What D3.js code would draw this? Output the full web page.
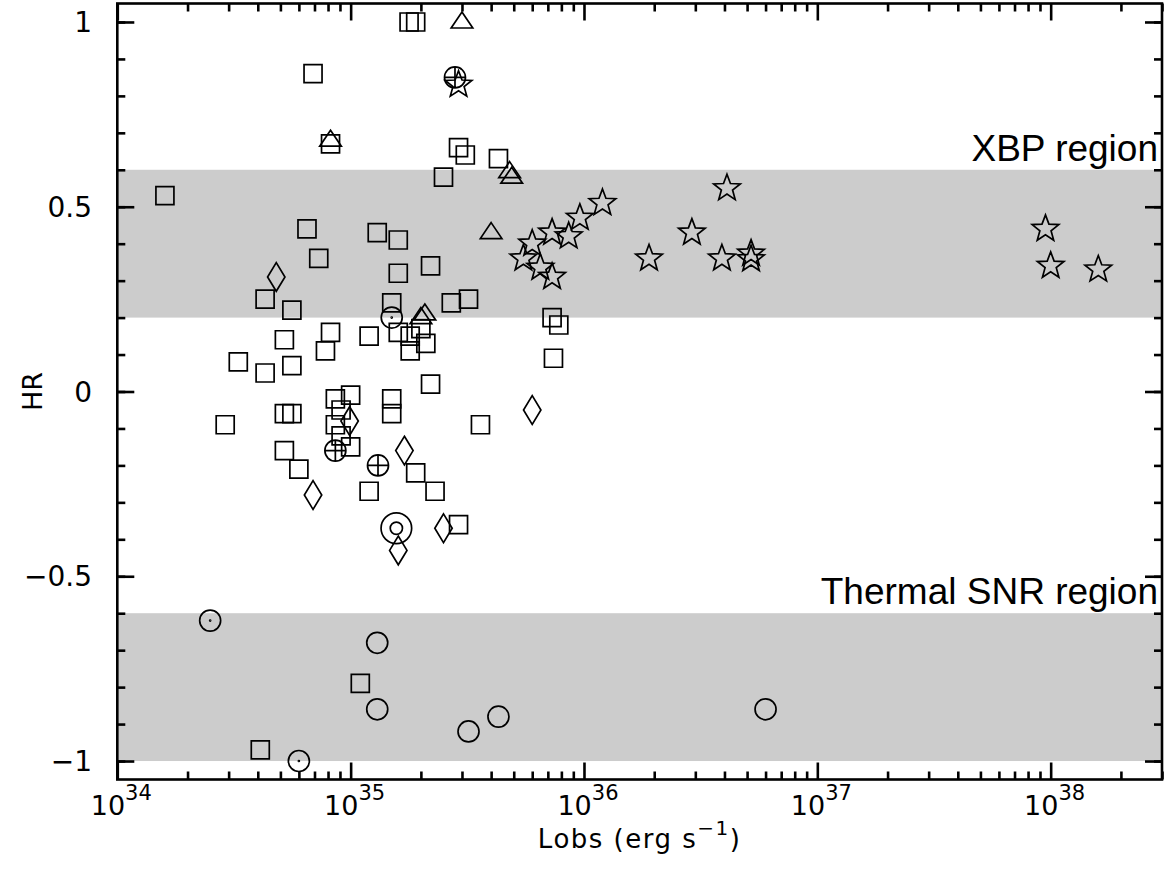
<!DOCTYPE html>
<html>
<head>
<meta charset="utf-8">
<script src="https://cdn.jsdelivr.net/npm/d3@7"></script>
<style>
  body { margin: 0; background: #fff; }
  svg { display: block; }
</style>
</head>
<body>
<div id="chart"></div>
<script>
// --- Data: [Lobs (erg s^-1), HR] for each marker type ---
const squares = [
  [1.78e35, 1.00], [1.90e35, 1.00], [6.9e34, 0.86], [8.2e34, 0.67], [2.9e35, 0.66],
  [3.1e35, 0.64], [4.3e35, 0.63], [2.5e35, 0.58], [1.6e34, 0.53], [6.5e34, 0.44],
  [1.3e35, 0.43], [1.6e35, 0.41], [7.3e34, 0.36], [2.2e35, 0.34], [1.6e35, 0.32],
  [4.3e34, 0.25], [5.6e34, 0.22], [1.5e35, 0.24], [2.7e35, 0.24], [3.2e35, 0.25],
  [5.2e34, 0.14], [8.2e34, 0.16], [7.8e34, 0.11], [1.2e35, 0.15], [1.6e35, 0.16],
  [1.8e35, 0.15], [2.0e35, 0.17], [2.1e35, 0.13], [1.8e35, 0.11], [3.3e34, 0.08],
  [4.3e34, 0.05], [5.6e34, 0.07], [2.2e35, 0.02], [1.0e35, -0.01], [8.6e34, -0.02],
  [1.5e35, -0.02], [1.5e35, -0.06], [5.2e34, -0.06], [5.6e34, -0.06], [9.1e34, -0.05],
  [8.6e34, -0.09], [2.9e34, -0.09], [3.6e35, -0.09], [9.1e34, -0.12], [1.0e35, -0.15],
  [5.2e34, -0.16], [6.0e34, -0.21], [1.9e35, -0.22], [1.2e35, -0.27], [2.3e35, -0.27],
  [2.9e35, -0.36], [7.4e35, 0.09], [7.3e35, 0.20], [7.8e35, 0.18], [1.1e35, -0.79],
  [4.1e34, -0.97]
];
const diamonds = [
  [4.8e34, 0.31], [9.9e34, -0.08], [1.7e35, -0.16], [6.9e34, -0.28], [1.6e35, -0.43],
  [2.5e35, -0.37], [6.0e35, -0.05]
];
const triangles = [
  [3.0e35, 1.00], [8.2e34, 0.68], [2.08e35, 0.21], [2.0e35, 0.20], [4.8e35, 0.595],
  [4.9e35, 0.58], [4.0e35, 0.43]
];
const dotCircles = [[1.5e35, 0.20], [2.5e34, -0.62], [6.0e34, -1.00]];
const plusCircles = [[2.8e35, 0.85], [8.6e34, -0.16], [1.31e35, -0.20]];
const openCircles = [
  [1.3e35, -0.68], [1.3e35, -0.86], [3.2e35, -0.92], [4.3e35, -0.88], [6.0e36, -0.86]
];
const targets = [[1.57e35, -0.37]];
const stars = [
  [2.9e35, 0.83], [4.1e36, 0.55], [1.2e36, 0.51], [9.6e35, 0.47], [7.3e35, 0.43],
  [8.6e35, 0.42], [6.0e35, 0.40], [5.5e35, 0.36], [6.5e35, 0.335], [7.3e35, 0.31],
  [2.9e36, 0.43], [1.9e36, 0.36], [3.9e36, 0.36], [5.2e36, 0.373], [5.2e36, 0.358],
  [9.5e37, 0.44], [1.0e38, 0.34], [1.6e38, 0.33]
];

// Shaded regions
const xbpBand = [0.2, 0.6];
const snrBand = [-1.0, -0.6];

// Tick labels
const xMajorTicks = [1e34, 1e35, 1e36, 1e37, 1e38];
const xTickExponents = ["34", "35", "36", "37", "38"];
const yMajorTicks = [1, 0.5, 0, -0.5, -1];
const yTickLabels = ["1", "0.5", "0", "\u22120.5", "\u22121"];

// --- Layout ---
const W = 1164, H = 871;
const plot = { left: 117.3, right: 1162, top: 3.5, bottom: 779.5 };

const svg = d3.select("#chart").append("svg")
  .attr("width", W).attr("height", H)
  .style("background", "#fff");

const x = d3.scaleLog().domain([1e34, 3e38]).range([plot.left, plot.right]);
const y = d3.scaleLinear().domain([-1.05, 1.05]).range([plot.bottom, plot.top]);

// Gray bands
[xbpBand, snrBand].forEach(b => {
  svg.append("rect")
    .attr("x", plot.left).attr("width", plot.right - plot.left)
    .attr("y", y(b[1])).attr("height", y(b[0]) - y(b[1]))
    .attr("fill", "#cccccc");
});

// Region labels
const labelFont = "'Liberation Sans', Arial, sans-serif";
svg.append("text").attr("x", plot.right - 4).attr("y", y(0.6) - 9)
  .attr("text-anchor", "end").style("font-family", labelFont).style("font-size", "37px")
  .text("XBP region");
svg.append("text").attr("x", plot.right - 4).attr("y", y(-0.6) - 9)
  .attr("text-anchor", "end").style("font-family", labelFont).style("font-size", "37px")
  .text("Thermal SNR region");

// --- Marker shapes (size = radius) ---
const TAU = 2 * Math.PI;
const symSquare = { draw(c, r) { c.rect(-r, -r, 2 * r, 2 * r); } };
const symCircle = { draw(c, r) { c.moveTo(r, 0); c.arc(0, 0, r, 0, TAU); } };
const symDotCircle = { draw(c, r) {
  symCircle.draw(c, r); c.moveTo(0.5, 0); c.arc(0, 0, 0.5, 0, TAU);
} };
const symPlusCircle = { draw(c, r) {
  symCircle.draw(c, r);
  c.moveTo(-r, 0); c.lineTo(r, 0); c.moveTo(0, -r); c.lineTo(0, r);
} };
const symTarget = { draw(c, r) {
  symCircle.draw(c, r); c.moveTo(r * 0.4, 0); c.arc(0, 0, r * 0.4, 0, TAU);
} };
const symDiamond = { draw(c, r) {
  c.moveTo(0, -r * 1.65); c.lineTo(r, 0); c.lineTo(0, r * 1.65); c.lineTo(-r, 0); c.closePath();
} };
const symTriangle = { draw(c, r) {
  c.moveTo(0, -r); c.lineTo(r * 1.08, r * 0.6); c.lineTo(-r * 1.08, r * 0.6); c.closePath();
} };
const symStar = { draw(c, r) {
  for (let i = 0; i < 10; i++) {
    const a = -Math.PI / 2 + i * Math.PI / 5;
    const rr = i % 2 ? r * 0.42 : r;
    if (i === 0) c.moveTo(rr * Math.cos(a), rr * Math.sin(a));
    else c.lineTo(rr * Math.cos(a), rr * Math.sin(a));
  }
  c.closePath();
} };

const series = [
  { data: squares, type: symSquare, r: 9 },
  { data: diamonds, type: symDiamond, r: 8.7 },
  { data: triangles, type: symTriangle, r: 10 },
  { data: dotCircles, type: symDotCircle, r: 10.5 },
  { data: plusCircles, type: symPlusCircle, r: 10.5 },
  { data: openCircles, type: symCircle, r: 10.5 },
  { data: targets, type: symTarget, r: 15.3 },
  { data: stars, type: symStar, r: 14 }
];

const marks = svg.append("g")
  .attr("fill", "none").attr("stroke", "#000").attr("stroke-width", 1.7);

series.forEach(s => {
  marks.append("g").selectAll("path")
    .data(s.data)
    .join("path")
    .attr("transform", d => `translate(${x(d[0])},${y(d[1])})`)
    .attr("d", d3.symbol(s.type, s.r));
});

// --- Axes: inward ticks on all four sides ---
const xMinor = [];
xMajorTicks.forEach(t => { for (let m = 2; m <= 9; m++) if (t * m <= 3e38) xMinor.push(t * m); });
const yMinor = d3.range(-10, 11).map(i => i / 10);

const axisStyle = g => {
  g.select(".domain").remove();
  g.selectAll("line").attr("stroke", "#000").attr("stroke-width", 2.6);
  g.selectAll("text").remove();
};

const axes = [
  [d3.axisBottom, `translate(0,${plot.bottom})`, x, xMinor, xMajorTicks],
  [d3.axisTop, `translate(0,${plot.top})`, x, xMinor, xMajorTicks],
  [d3.axisLeft, `translate(${plot.left},0)`, y, yMinor, yMajorTicks],
  [d3.axisRight, `translate(${plot.right},0)`, y, yMinor, yMajorTicks]
];
axes.forEach(([axisFn, tr, sc, minor, major]) => {
  svg.append("g").attr("transform", tr)
    .call(axisFn(sc).tickValues(minor).tickSize(-8).tickFormat(""))
    .call(axisStyle);
  svg.append("g").attr("transform", tr)
    .call(axisFn(sc).tickValues(major).tickSize(-17).tickFormat(""))
    .call(axisStyle);
});

// Frame
svg.append("rect")
  .attr("x", plot.left).attr("y", plot.top)
  .attr("width", plot.right - plot.left).attr("height", plot.bottom - plot.top)
  .attr("fill", "none").attr("stroke", "#000").attr("stroke-width", 2.6);

// --- Tick labels ---
const tickFont = "'DejaVu Sans', sans-serif";
svg.append("g").selectAll("text")
  .data(yMajorTicks)
  .join("text")
  .attr("x", 92)
  .attr("y", d => y(d))
  .attr("dy", "0.36em")
  .attr("text-anchor", "end")
  .style("font-family", tickFont).style("font-size", "28px")
  .text((d, i) => yTickLabels[i]);

const xLabels = svg.append("g").selectAll("text")
  .data(xMajorTicks)
  .join("text")
  .attr("x", d => x(d) + 4)
  .attr("y", 815)
  .attr("text-anchor", "middle")
  .style("font-family", tickFont).style("font-size", "27px");
xLabels.append("tspan").text("10");
xLabels.append("tspan").attr("dy", -15).style("font-size", "21px")
  .text((d, i) => xTickExponents[i]);

// --- Axis titles ---
const xTitle = svg.append("text")
  .attr("x", (plot.left + plot.right) / 2).attr("y", 848)
  .attr("text-anchor", "middle")
  .style("font-family", tickFont).style("font-size", "26px")
  .style("letter-spacing", "1.5px");
xTitle.append("tspan").text("Lobs (erg s");
xTitle.append("tspan").attr("dy", -13).style("font-size", "20px").text("\u22121");
xTitle.append("tspan").attr("dy", 13).text(")");

svg.append("text")
  .attr("transform", `translate(42,${y(0)}) rotate(-90)`)
  .attr("text-anchor", "middle")
  .style("font-family", tickFont).style("font-size", "27px")
  .text("HR");
</script>
</body>
</html>
